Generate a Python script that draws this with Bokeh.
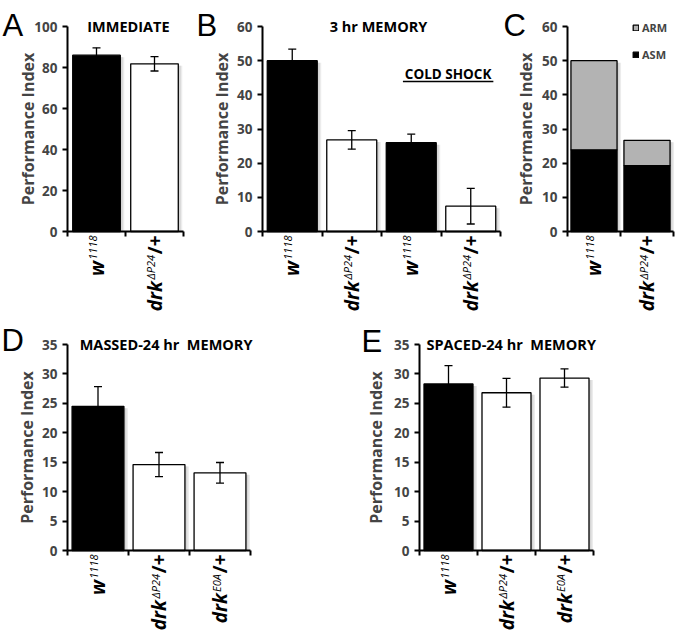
import math
from bokeh.plotting import figure
from bokeh.models import (Range1d, FixedTicker, Label, Whisker, TeeHead,
                          ColumnDataSource, Legend, LegendItem)
from bokeh.layouts import row, column
from bokeh.embed import file_html
from bokeh.resources import INLINE

FONT = "Open Sans"
LETTER_FONT = "Liberation Sans"

# ---------------- data ----------------
# Panel A: immediate memory
a_genotypes = ["w1118", "drkdP24"]
a_means = [86.0, 81.8]
a_errors = [3.6, 3.5]
a_colors = ["black", "white"]
a_yticks = [0, 20, 40, 60, 80, 100]

# Panel B: 3 hr memory (last two: cold shock)
b_genotypes = ["w1118", "drkdP24", "w1118", "drkdP24"]
b_means = [50.0, 26.8, 26.0, 7.4]
b_errors = [3.4, 2.7, 2.5, 5.2]
b_colors = ["black", "white", "black", "white"]
b_yticks = [0, 10, 20, 30, 40, 50, 60]

# Panel C: ASM / ARM decomposition
c_genotypes = ["w1118", "drkdP24"]
c_asm = [23.9, 19.3]
c_arm = [26.1, 7.4]
c_yticks = [0, 10, 20, 30, 40, 50, 60]

# Panel D: massed 24 hr memory
d_genotypes = ["w1118", "drkdP24", "drkE0A"]
d_means = [24.5, 14.6, 13.2]
d_errors = [3.35, 2.05, 1.75]
d_colors = ["black", "white", "white"]
d_yticks = [0, 5, 10, 15, 20, 25, 30, 35]

# Panel E: spaced 24 hr memory
e_genotypes = ["w1118", "drkdP24", "drkE0A"]
e_means = [28.3, 26.8, 29.3]
e_errors = [3.1, 2.45, 1.55]
e_colors = ["black", "white", "white"]
e_yticks = [0, 5, 10, 15, 20, 25, 30, 35]

# tick-label pieces: (text, kind)
label_parts = {
    "w1118": [("w", "base_i"), ("1118", "sup")],
    "drkdP24": [("drk", "base_i"), ("\u0394P24", "sup"), ("/+", "base")],
    "drkE0A": [("drk", "base_i"), ("E0A", "sup"), ("/+", "base")],
}

# ---------------- styling helpers ----------------
BASE_SIZE = 19
SUP_SIZE = 11
CHAR_W_BOLD = {"d": .63, "r": .45, "k": .6, "w": .86, "/": .40, "+": .6}
CHAR_W_ITAL = {"\u0394": .62, "P": .57, "E": .52, "A": .6, "0": .57,
               "1": .57, "2": .57, "4": .57, "8": .57}


def piece_len(text, kind):
    if kind == "sup":
        return sum(CHAR_W_ITAL.get(c, .57) for c in text) * SUP_SIZE + 0.5
    return sum(CHAR_W_BOLD.get(c, .6) for c in text) * BASE_SIZE + 0.5


def add_xlabels(p, genotypes, gap=4):
    for i, g in enumerate(genotypes):
        parts = label_parts[g]
        off = gap
        for text, kind in reversed(parts):
            if kind == "sup":
                kw = dict(text_font_size=f"{SUP_SIZE}px", text_font_style="italic", x_offset=-4)
            elif kind == "base_i":
                kw = dict(text_font_size=f"{BASE_SIZE}px", text_font_style="bold italic", x_offset=0)
            else:
                kw = dict(text_font_size=f"{BASE_SIZE}px", text_font_style="bold", x_offset=0)
            p.add_layout(Label(x=i + 0.5, y=0, y_offset=-off, text=text, angle=math.pi / 2,
                               text_align="right", text_baseline="middle",
                               text_font=FONT, text_color="black", **kw))
            off += piece_len(text, kind)


def make_fig(w, h, n, ymax, yticks, left, right, top, bottom, label_standoff):
    """Frame covers the whole figure; the data area [0,n]x[0,ymax] sits at
    pixel box (left..right, top..bottom) measured from the figure's top-left."""
    kx = (right - left) / n
    ky = (bottom - top) / ymax
    xr = Range1d(-left / kx, n + (w - right) / kx)
    yr = Range1d(-(h - bottom) / ky, ymax + top / ky)
    p = figure(width=w, height=h, x_range=xr, y_range=yr,
               toolbar_location=None, output_backend="svg",
               min_border_left=0, min_border_right=0,
               min_border_top=0, min_border_bottom=0)
    p.outline_line_color = None
    p.grid.visible = False
    p.background_fill_color = "white"
    p.border_fill_color = "white"
    ya = p.yaxis[0]
    ya.fixed_location = 0
    ya.bounds = (0, ymax)
    ya.ticker = FixedTicker(ticks=yticks)
    ya.axis_label = "Performance Index"
    ya.axis_label_text_font = FONT
    ya.axis_label_text_font_style = "bold"
    ya.axis_label_text_font_size = "16px"
    ya.axis_label_standoff = label_standoff
    ya.major_label_text_font = FONT
    ya.major_label_text_font_style = "bold"
    ya.major_label_text_font_size = "13.5px"
    ya.major_label_standoff = 5
    ya.axis_line_width = 2
    ya.major_tick_line_width = 2
    ya.major_tick_out = 5
    ya.major_tick_in = 0
    ya.minor_tick_line_color = None
    xa = p.xaxis[0]
    xa.fixed_location = 0
    xa.bounds = (0, n)
    xa.ticker = FixedTicker(ticks=list(range(n + 1)))
    xa.major_label_text_color = None
    xa.axis_line_width = 2
    xa.major_tick_line_width = 2
    xa.major_tick_out = 5
    xa.major_tick_in = 0
    xa.minor_tick_line_color = None
    return p


def px_x(p, px):
    return px * (p.x_range.end - p.x_range.start) / p.width


def px_y(p, px):
    return px * (p.y_range.end - p.y_range.start) / p.height


def add_shadow(p, xs, tops, width):
    # soft drop shadow on the right side of each bar
    for k, col in ((4, "#ececec"), (2.5, "#d6d6d6")):
        p.vbar(x=[x + px_x(p, k) for x in xs], top=[t - px_y(p, 2) for t in tops],
               width=width, fill_color=col, line_color=None)


def add_bars(p, means, errors, colors, width):
    n = len(means)
    xs = [i + 0.5 for i in range(n)]
    add_shadow(p, xs, means, width)
    src = ColumnDataSource(dict(
        x=xs, top=means, color=colors,
        upper=[m + e for m, e in zip(means, errors)],
        lower=[m - e for m, e in zip(means, errors)]))
    p.vbar(x="x", top="top", width=width, source=src, fill_color="color",
           line_color="black", line_width=1.3)
    wk = Whisker(base="x", upper="upper", lower="lower", source=src,
                 line_color="black", line_width=1.3, level="overlay",
                 upper_head=TeeHead(size=8, line_width=1.3, line_color="black"),
                 lower_head=TeeHead(size=8, line_width=1.3, line_color="black"))
    p.add_layout(wk)


def add_letter(p, letter, x_offset, baseline):
    p.add_layout(Label(x=p.x_range.start, y=p.y_range.end, x_offset=x_offset, y_offset=-baseline,
                       text=letter, text_font=LETTER_FONT, text_font_size="31px",
                       text_baseline="alphabetic", text_align="left", text_color="black"))


def add_title(p, text, x, ymax, align="center", size="14.5px", y=None):
    p.add_layout(Label(x=x, y=ymax if y is None else y, text=text,
                       text_font=FONT, text_font_style="bold", text_font_size=size,
                       text_align=align, text_baseline="middle", text_color="black"))


# ---------------- Panel A ----------------
pa = make_fig(195, 320, 2, 100, a_yticks, 67, 183, 26, 231, -8)
add_bars(pa, a_means, a_errors, a_colors, 0.82)
add_xlabels(pa, a_genotypes)
add_letter(pa, "A", 2, 25)
add_title(pa, "IMMEDIATE", 1.05, 100)

# ---------------- Panel B ----------------
pb = make_fig(308, 320, 4, 60, b_yticks, 67, 305, 26, 231, 1)
add_bars(pb, b_means, b_errors, b_colors, 0.84)
add_xlabels(pb, b_genotypes)
add_letter(pb, "B", 1, 25)
add_title(pb, "3 hr MEMORY", 1.95, 60)
add_title(pb, "COLD SHOCK", 3.12, 60, size="13.5px", y=46.2)
pb.segment(x0=[3.12 - 0.76], x1=[3.12 + 0.76], y0=[43.9], y1=[43.9],
           line_color="black", line_width=1.5)

# ---------------- Panel C ----------------
pc = make_fig(173, 320, 2, 60, c_yticks, 64, 170, 26, 231, 2)
c_x = [i + 0.5 for i in range(len(c_genotypes))]
add_shadow(pc, c_x, [a + r for a, r in zip(c_asm, c_arm)], 0.87)
c_src = ColumnDataSource(dict(x=c_x, asm=c_asm, arm=c_arm))
rs = pc.vbar_stack(["asm", "arm"], x="x", width=0.87, source=c_src,
                   color=["black", "#b3b3b3"], line_color="black", line_width=1.3)
add_xlabels(pc, c_genotypes)
add_letter(pc, "C", 0, 25)
leg = Legend(items=[LegendItem(label="ARM", renderers=[rs[1]]),
                    LegendItem(label="ASM", renderers=[rs[0]])],
             location=(129, 258), orientation="vertical",
             glyph_width=7, glyph_height=7, label_height=7, label_standoff=3,
             spacing=12, padding=0, margin=0, border_line_color=None,
             background_fill_alpha=0,
             label_text_font=FONT, label_text_font_style="bold", label_text_font_size="11px")
pc.add_layout(leg)

# ---------------- Panel D ----------------
pd_ = make_fig(330, 312, 3, 35, d_yticks, 67, 250, 24, 230, 1)
add_bars(pd_, d_means, d_errors, d_colors, 0.85)
add_xlabels(pd_, d_genotypes)
add_letter(pd_, "D", 1, 20)
add_title(pd_, "MASSED-24 hr \u00a0MEMORY", 0.2, 35, align="left")

# ---------------- Panel E ----------------
pe = make_fig(346, 312, 3, 35, e_yticks, 89, 263, 24, 230, 4)
add_bars(pe, e_means, e_errors, e_colors, 0.845)
add_xlabels(pe, e_genotypes)
add_letter(pe, "E", 31, 21)
add_title(pe, "SPACED-24 hr \u00a0MEMORY", 0.12, 35, align="left")

layout = column(row(pa, pb, pc), row(pd_, pe))
open("out.html", "w").write(file_html(layout, INLINE))
